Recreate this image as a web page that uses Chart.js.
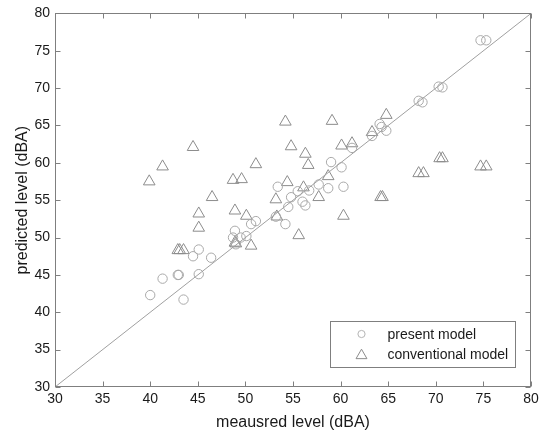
<!DOCTYPE html>
<html>
<head>
<meta charset="utf-8">
<script src="https://cdn.jsdelivr.net/npm/chart.js@4.4.1/dist/chart.umd.min.js"></script>
<style>
html,body{margin:0;padding:0;background:#fff;}
#wrap{width:548px;height:432px;}
</style>
</head>
<body>
<div id="wrap"><canvas id="c" width="548" height="432"></canvas></div>
<script>
// ---- data ----
const seriesNames = ['present model', 'conventional model'];

const presentX = [40.0, 41.3, 42.9, 43.0, 43.5, 44.5, 45.1, 45.1, 46.4, 48.7, 48.9, 49.0, 49.5, 50.1, 50.6, 51.1,
                  53.2, 53.4, 54.2, 54.5, 54.8, 55.5, 56.0, 56.3, 56.7, 57.7, 58.7, 59.0, 60.1, 60.3, 61.2,
                  63.3, 64.1, 64.3, 64.8, 68.2, 68.6, 70.3, 70.7, 74.7, 75.3];
const presentY = [42.3, 44.5, 45.0, 45.0, 41.7, 47.5, 48.4, 45.1, 47.3, 50.0, 50.9, 49.1, 50.0, 50.2, 51.8, 52.2,
                  52.8, 56.8, 51.8, 54.1, 55.4, 56.2, 54.8, 54.3, 56.3, 57.1, 56.6, 60.1, 59.4, 56.8, 62.0,
                  63.6, 65.2, 64.8, 64.3, 68.3, 68.1, 70.2, 70.1, 76.4, 76.4];

const convX = [39.9, 41.3, 44.5, 42.9, 43.1, 43.5, 45.1, 45.1, 46.5, 48.7, 48.9, 48.9, 49.0, 49.6, 50.1, 50.6,
               51.1, 53.2, 53.3, 54.2, 54.4, 54.8, 55.6, 56.3, 56.1, 56.6, 57.7, 58.7, 59.1, 60.1, 60.3,
               61.2, 63.3, 64.8, 64.2, 64.4, 68.2, 68.7, 70.4, 70.7, 74.7, 75.3];
const convY = [57.5, 59.5, 62.1, 48.3, 48.3, 48.3, 53.2, 51.3, 55.4, 57.7, 53.6, 49.3, 49.2, 57.8, 52.9, 48.9,
               59.8, 55.1, 52.8, 65.5, 57.4, 62.2, 50.3, 61.2, 56.7, 59.7, 55.4, 58.2, 65.6, 62.3, 52.9,
               62.6, 64.1, 66.4, 55.4, 55.4, 58.6, 58.6, 60.6, 60.6, 59.5, 59.5];

const refLineX = [30, 80];
const refLineY = [30, 80];
const tickValues = [30, 35, 40, 45, 50, 55, 60, 65, 70, 75, 80];
const xTitle = 'meausred level (dBA)';
const yTitle = 'predicted level (dBA)';

// ---- build chart ----
const toPts = (xs, ys) => xs.map((v, i) => ({x: v, y: ys[i]}));
const FONT = '"Liberation Sans", Arial, Helvetica, sans-serif';
const AXIS = '#7f7f7f';
const TEXT = '#1a1a1a';

const framePlugin = {
  id: 'frame',
  afterDraw(chart) {
    const {ctx, chartArea: a, scales: {x, y}} = chart;
    ctx.save();
    ctx.strokeStyle = AXIS;
    ctx.lineWidth = 1;
    const L = Math.round(a.left) + 0.5, R = Math.round(a.right) - 0.5;
    const T = Math.round(a.top) + 0.5, B = Math.round(a.bottom) - 0.5;
    ctx.strokeRect(L, T, R - L, B - T);
    const tl = 5;
    ctx.beginPath();
    tickValues.forEach(v => {
      const px = Math.round(x.getPixelForValue(v)) + 0.5;
      ctx.moveTo(px, B); ctx.lineTo(px, B - tl);
      ctx.moveTo(px, T); ctx.lineTo(px, T + tl);
      const py = Math.round(y.getPixelForValue(v)) + 0.5;
      ctx.moveTo(L, py); ctx.lineTo(L + tl, py);
      ctx.moveTo(R, py); ctx.lineTo(R - tl, py);
    });
    ctx.stroke();

    // legend box inside the axes (bottom-right)
    const bw = 185, bh = 46;
    const bx = Math.round(a.right - 16 - bw) + 0.5;
    const by = Math.round(a.bottom - 20 - bh) + 0.5;
    ctx.fillStyle = '#fff';
    ctx.fillRect(bx, by, bw, bh);
    ctx.strokeStyle = AXIS;
    ctx.strokeRect(bx, by, bw, bh);
    const ds = chart.data.datasets;
    [0, 1].forEach((di, k) => {
      const d = ds[di];
      const cy = by + 12.5 + k * 20;
      ctx.save();
      ctx.strokeStyle = di === 0 ? '#b5b5b5' : '#8c8c8c';
      ctx.fillStyle = 'rgba(0,0,0,0)';
      ctx.lineWidth = 1;
      Chart.helpers.drawPoint(ctx, {
        pointStyle: d.pointStyle,
        radius: di === 0 ? 3.6 : 6.3,
        borderWidth: 1
      }, bx + 31, cy + (di === 1 ? 1.5 : 0));
      ctx.restore();
      ctx.fillStyle = TEXT;
      ctx.font = '14px ' + FONT;
      ctx.textBaseline = 'middle';
      ctx.textAlign = 'left';
      ctx.fillText(d.label, bx + 57, cy + 1);
    });
    ctx.restore();
  }
};

new Chart(document.getElementById('c'), {
  type: 'scatter',
  data: {
    datasets: [
      {
        label: seriesNames[0],
        data: toPts(presentX, presentY),
        pointStyle: 'circle',
        pointRadius: 4.7,
        pointHoverRadius: 4.7,
        borderColor: '#a9a9a9',
        backgroundColor: 'rgba(0,0,0,0)',
        borderWidth: 1,
        order: 2
      },
      {
        label: seriesNames[1],
        data: toPts(convX, convY),
        pointStyle: 'triangle',
        pointRadius: 6.7,
        pointHoverRadius: 6.7,
        borderColor: '#8c8c8c',
        backgroundColor: 'rgba(0,0,0,0)',
        borderWidth: 1,
        order: 3
      },
      {
        label: 'y = x',
        data: toPts(refLineX, refLineY),
        showLine: true,
        pointRadius: 0,
        borderColor: '#a0a0a0',
        borderWidth: 1,
        fill: false,
        order: 1
      }
    ]
  },
  options: {
    responsive: false,
    animation: false,
    devicePixelRatio: 1,
    layout: {padding: {top: 13, right: 17, left: 0, bottom: 0}},
    plugins: {
      legend: {display: false},
      tooltip: {enabled: false}
    },
    scales: {
      x: {
        type: 'linear',
        min: 30, max: 80,
        afterBuildTicks: s => { s.ticks = tickValues.map(v => ({value: v})); },
        afterFit: s => { s.height = 45; },
        grid: {display: false, drawTicks: false},
        border: {display: false},
        ticks: {font: {family: FONT, size: 14}, color: TEXT, padding: 4, maxRotation: 0, autoSkip: false},
        title: {display: true, text: xTitle, color: TEXT, font: {family: FONT, size: 16}, padding: {top: 0, bottom: 0}}
      },
      y: {
        type: 'linear',
        min: 30, max: 80,
        afterBuildTicks: s => { s.ticks = tickValues.map(v => ({value: v})); },
        afterFit: s => { s.width = 55; },
        grid: {display: false, drawTicks: false},
        border: {display: false},
        ticks: {font: {family: FONT, size: 14}, color: TEXT, padding: 5, autoSkip: false},
        title: {display: true, text: yTitle, color: TEXT, font: {family: FONT, size: 16}, padding: {top: 13, bottom: 0}}
      }
    }
  },
  plugins: [framePlugin]
});
</script>
</body>
</html>
